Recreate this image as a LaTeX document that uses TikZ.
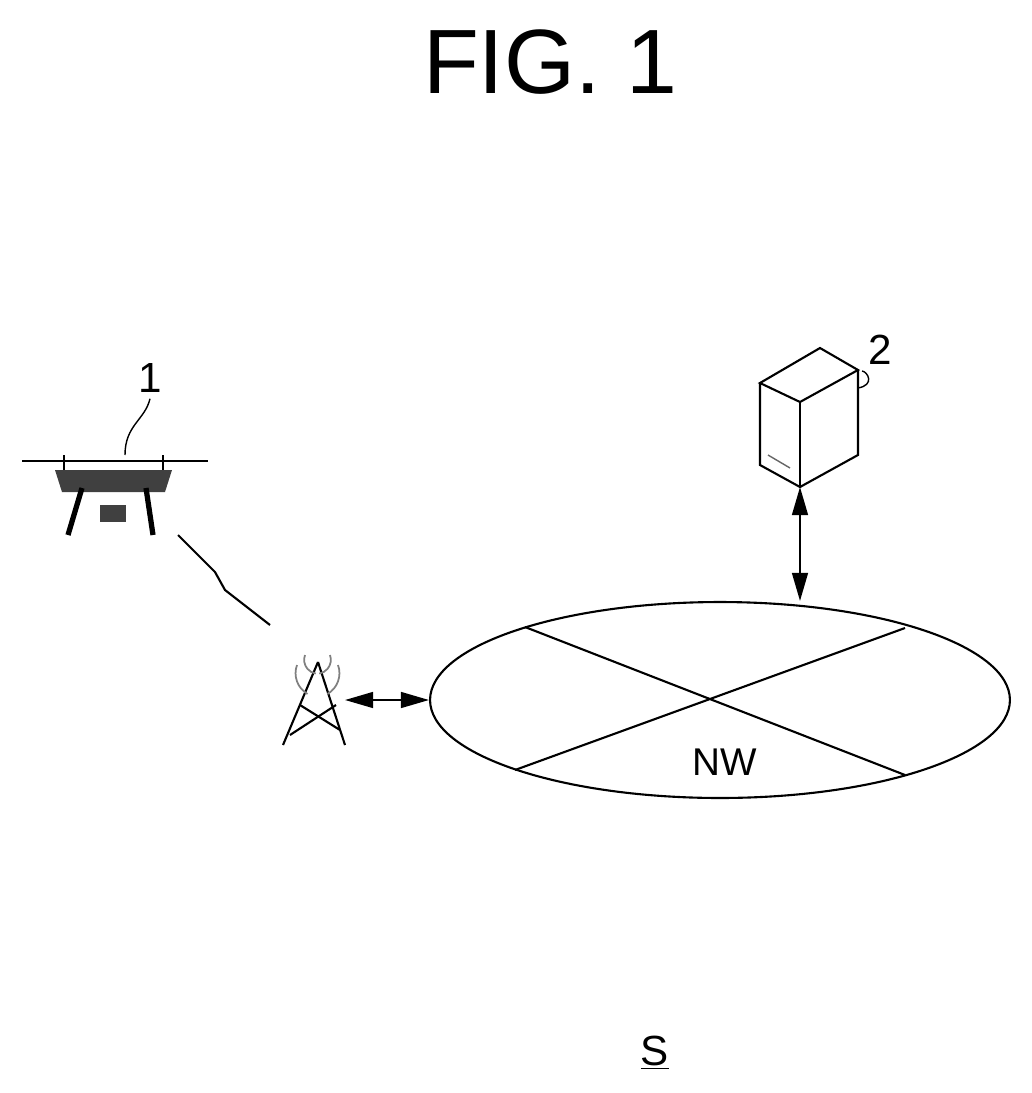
\documentclass[tikz,border=0pt]{standalone}
\usepackage{fontspec}
\setmainfont{Liberation Sans}
\usetikzlibrary{arrows.meta,shapes.geometric}
\begin{document}
\begin{tikzpicture}[x=0.02cm,y=-0.02cm]
	\tikzset{line/.style={draw=black, line width=1.2pt}};
	\tikzset{link/.style={line, {Triangle[length=16pt,width=9pt]}-{Triangle[length=16pt,width=9pt]}}};
	\useasboundingbox (0,0) rectangle (1032,1093);
	\node (title) at (550,62) {\fontsize{52}{52}\selectfont FIG. 1};

	% drone
	\draw[line] (22,461) -- (208,461);
	\draw[line] (64,455) -- (64,470);
	\draw[line] (163,455) -- (163,470);
	\fill[black!75] (55,470) -- (172,470) -- (165,492) -- (62,492) -- cycle;
	\draw[line, line width=3pt] (82,488) -- (68,535);
	\draw[line, line width=3pt] (146,488) -- (153,535);
	\fill[black!75] (100,505) rectangle (126,522);
	\coordinate (drone) at (178,535);
	\node (d1) at (150,378) {\fontsize{24}{24}\selectfont 1};
	\draw[line, line width=0.8pt] (d1.south) .. controls (145,420) and (125,425) .. (125,455);

	% tower
	\coordinate (tower) at (270,625);
	\draw[line] (drone) -- (215,572) -- (225,590) -- (tower);
	\draw[line] (318,662) -- (283,745);
	\draw[line] (318,662) -- (345,745);
	\draw[line] (300,705) -- (340,730);
	\draw[line] (336,705) -- (290,735);
	\draw[black!50, line width=1pt] (305,655) arc (200:100:14);
	\draw[black!50, line width=1pt] (330,655) arc (-20:80:14);
	\draw[black!50, line width=1pt] (297,665) arc (200:120:24);
	\draw[black!50, line width=1pt] (338,665) arc (-20:60:24);
	\coordinate (towerR) at (345,700);

	% network
	\node[ellipse, draw, line width=1.2pt, inner sep=0pt,
		minimum width=11.6cm, minimum height=3.92cm] (nw) at (720,700) {};
	\draw[line] (525,627) -- (905,775);
	\draw[line] (515,770) -- (905,628);
	\node (nwlabel) at (725,762) {\fontsize{22}{22}\selectfont NW};
	\draw[link] (towerR) -- (nw.west);

	% server
	\draw[line] (760,383) -- (820,348) -- (858,370) -- (800,402) -- cycle;
	\draw[line] (760,383) -- (760,465) -- (800,487) -- (858,455) -- (858,370);
	\draw[line] (800,402) -- (800,487);
	\draw[black!60, line width=0.8pt] (768,455) -- (790,468);
	\coordinate (server) at (800,487);
	\node (d2) at (880,350) {\fontsize{24}{24}\selectfont 2};
	\draw[line, line width=0.8pt] (858,388) .. controls (875,385) and (868,372) .. (d2.south west);
	\draw[link] (server) -- (nw.north -| server);

	\node (sys) at (655,1053) {\fontsize{24}{24}\selectfont \underline{S}};
\end{tikzpicture}
\end{document}
